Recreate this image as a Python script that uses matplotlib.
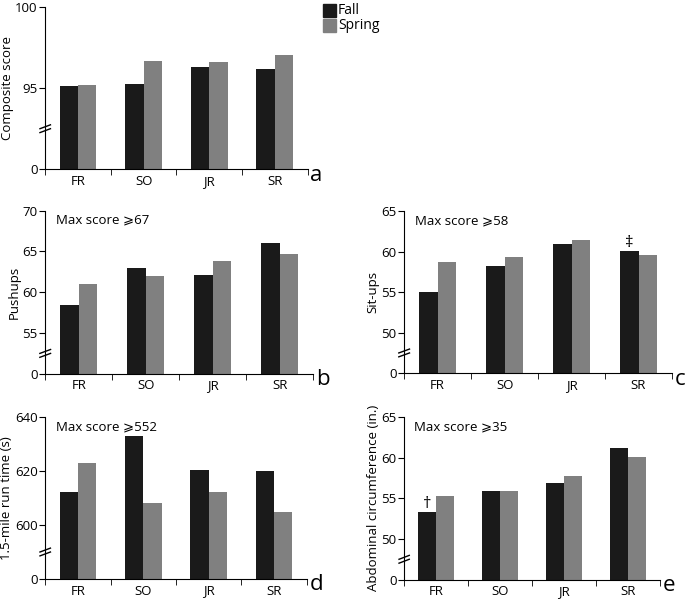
import numpy as np
import matplotlib
matplotlib.use('Agg')
import matplotlib.pyplot as plt

plt.rcParams['font.family'] = ['Open Sans', 'DejaVu Sans']
plt.rcParams['font.size'] = 9.5

classes = ['FR', 'SO', 'JR', 'SR']

# values
composite_fall = [95.12, 95.29, 96.33, 96.18]
composite_spring = [95.2, 96.65, 96.61, 97.06]
pushups_fall = [58.45, 62.98, 62.08, 65.98]
pushups_spring = [61.02, 61.96, 63.84, 64.67]
situps_fall = [55.0, 58.27, 60.99, 60.08]
situps_spring = [58.68, 59.34, 61.44, 59.55]
run_fall = [612.2, 632.9, 620.5, 620.1]
run_spring = [622.8, 608.0, 612.3, 604.8]
abd_fall = [53.28, 55.94, 56.93, 61.19]
abd_spring = [55.29, 55.86, 57.79, 60.08]

fall_col = '#1a1a1a'
spring_col = '#808080'


def broken_scale(lo, step):
    # 0..lo squeezed into one tick step below lo
    def fwd(v):
        v = np.asarray(v, dtype=float)
        return np.where(v >= lo, v, lo - step + v * step / lo)

    def inv(u):
        u = np.asarray(u, dtype=float)
        return np.where(u >= lo, u, (u - (lo - step)) * lo / step)
    return fwd, inv


def panel(rect, fall, spring, lo, step, top, ylabel, letter, note=None,
          mark=None):
    ax = fig.add_axes(rect)
    ax.set_yscale('function', functions=broken_scale(lo, step))
    x = np.arange(len(classes)) + 0.5
    w = 0.28
    ax.bar(x - w / 2, fall, w, bottom=0, color=fall_col, edgecolor='none')
    ax.bar(x + w / 2, spring, w, bottom=0, color=spring_col, edgecolor='none')
    ax.set_xlim(0, len(classes))
    ax.set_ylim(0, top)
    ax.set_yticks([0] + list(range(lo, top + 1, step)))
    ax.set_xticks(x)
    ax.set_xticklabels(classes)
    ax.set_xticks(np.arange(len(classes) + 1), minor=True)
    ax.tick_params(axis='x', which='major', length=0, pad=4)
    ax.tick_params(axis='x', which='minor', length=4, direction='out')
    ax.tick_params(axis='y', length=4, direction='out', pad=1.5)
    for s in ['top', 'right']:
        ax.spines[s].set_visible(False)
    ax.set_ylabel(ylabel, labelpad=1)
    h = rect[3] * 600
    ax.text(1.01, -6.0 / h, letter, transform=ax.transAxes, fontsize=16,
            ha='left', va='center')
    if note:
        ax.text(0.04, 0.98, note, transform=ax.transAxes, ha='left', va='top')
    # axis break marks
    yb = 0.5 / ((top - lo) / step + 1)
    for dy in (-0.012, 0.012):
        ax.plot([-0.02, 0.02], [yb + dy - 0.012, yb + dy + 0.012],
                transform=ax.transAxes, color='black', lw=1, clip_on=False)
    if mark:
        i, sym = mark
        ax.annotate(sym, (x[i] - w / 2, fall[i]), xytext=(0, 0),
                    textcoords='offset points', ha='center', va='bottom',
                    fontsize=12)
    return ax


fig = plt.figure(figsize=(6.85, 6.0), dpi=100)

panel([0.066, 0.718, 0.383, 0.27], composite_fall, composite_spring,
      95, 5, 100, 'Composite score', 'a')
panel([0.066, 0.377, 0.391, 0.272], pushups_fall, pushups_spring,
      55, 5, 70, 'Pushups', 'b', 'Max score \u2a7e67')
panel([0.590, 0.378, 0.391, 0.27], situps_fall, situps_spring,
      50, 5, 65, 'Sit-ups', 'c', 'Max score \u2a7e58', mark=(3, '\u2021'))
panel([0.066, 0.035, 0.382, 0.27], run_fall, run_spring,
      600, 20, 640, '1.5-mile run time (s)', 'd', 'Max score \u2a7e552')
panel([0.590, 0.034, 0.374, 0.271], abd_fall, abd_spring,
      50, 5, 65, 'Abdominal circumference (in.)', 'e', 'Max score \u2a7e35',
      mark=(0, '\u2020'))

# legend
fig.patches.append(plt.Rectangle((323 / 685, 1 - 17 / 600), 13 / 685, 13 / 600,
                                 transform=fig.transFigure, color=fall_col))
fig.patches.append(plt.Rectangle((323 / 685, 1 - 32 / 600), 13 / 685, 13 / 600,
                                 transform=fig.transFigure, color=spring_col))
fig.text(338 / 685, 1 - 10.5 / 600, 'Fall', ha='left', va='center', fontsize=10)
fig.text(338 / 685, 1 - 25.5 / 600, 'Spring', ha='left', va='center', fontsize=10)

fig.savefig('out.png', dpi=100)
